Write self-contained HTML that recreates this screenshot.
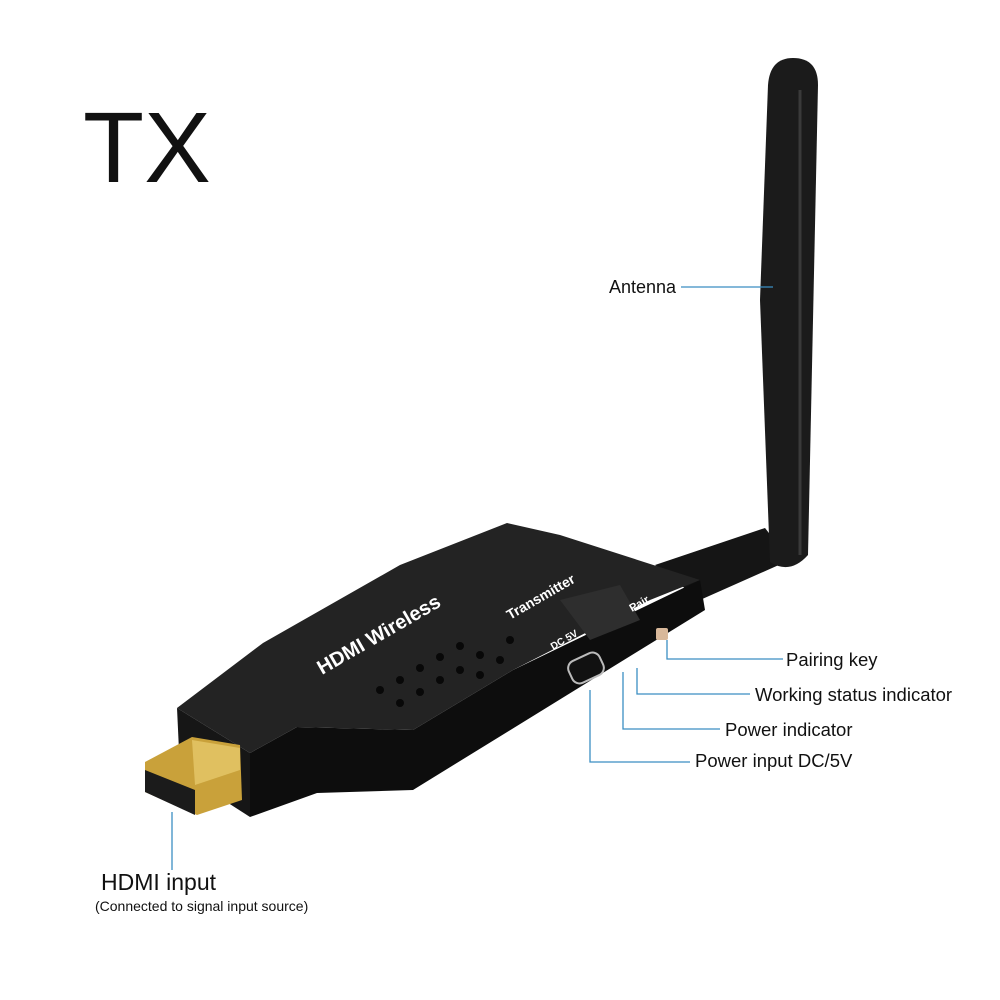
<!DOCTYPE html>
<html><head><style>
body{margin:0;background:#fff;}
svg{display:block;font-family:"Liberation Sans",sans-serif;}
</style></head><body>
<svg width="1000" height="1000" viewBox="0 0 1000 1000">
<rect width="1000" height="1000" fill="#fff"/>
<text x="83" y="182" font-size="100" fill="#111">TX</text>
<!-- antenna base hinge -->
<path d="M655,565 L765,528 L790,560 L700,600 Z" fill="#151515"/>
<!-- antenna -->
<path d="M768,85 Q770,58 793,58 Q818,58 818,85 L808,555 Q790,575 770,562 L760,300 Z" fill="#1b1b1b"/>
<path d="M800,90 L800,555" stroke="#3a3a3a" stroke-width="3"/>
<!-- side face -->
<path d="M250,753 L297,727 L413,730 L513,670 L700,580 L705,610 L413,790 L317,793 L250,817 Z" fill="#0d0d0d"/>
<!-- end face -->
<path d="M177,708 L250,753 L250,817 L180,772 Z" fill="#161616"/>
<!-- top face -->
<path d="M177,708 L263,643 L400,565 L507,523 L560,535 L700,580 L650,600 L513,670 L413,730 L297,727 L250,753 Z" fill="#232323"/>
<path d="M560,600 L620,585 L640,620 L590,640 Z" fill="#2e2e2e"/>
<g fill="#080808">
<circle cx="380" cy="690" r="4"/><circle cx="400" cy="680" r="4"/><circle cx="420" cy="668" r="4"/><circle cx="440" cy="657" r="4"/><circle cx="460" cy="646" r="4"/><circle cx="480" cy="655" r="4"/><circle cx="460" cy="670" r="4"/><circle cx="440" cy="680" r="4"/><circle cx="420" cy="692" r="4"/><circle cx="400" cy="703" r="4"/><circle cx="500" cy="660" r="4"/><circle cx="480" cy="675" r="4"/><circle cx="510" cy="640" r="4"/>
</g>
<text font-size="20" font-weight="bold" fill="#fff" transform="translate(322,675) rotate(-30)">HDMI Wireless</text>
<text font-size="14" font-weight="bold" fill="#fff" transform="translate(510,620) rotate(-30)">Transmitter</text>
<text font-size="10" font-weight="bold" fill="#fff" transform="translate(553,650) rotate(-30)">DC 5V</text>
<text font-size="11" font-weight="bold" fill="#fff" transform="translate(632,612) rotate(-30)">Pair</text>
<rect x="569" y="656" width="34" height="24" rx="8" fill="#111" stroke="#bbb" stroke-width="2" transform="rotate(-25 586 668)"/>
<rect x="656" y="628" width="12" height="12" rx="2" fill="#d8b89a"/>
<!-- HDMI connector -->
<path d="M145,762 L192,737 L240,745 L242,800 L197,815 L145,792 Z" fill="#c9a13a"/>
<path d="M145,770 L195,790 L195,815 L145,792 Z" fill="#1b1b1b"/>
<path d="M192,740 L240,748 L240,770 L195,785 Z" fill="#e0c060"/>
<g stroke="#3b8ec2" stroke-width="1.3" fill="none">
<path d="M681,287 H773"/>
<path d="M667,640 V659 H783"/>
<path d="M637,668 V694 H750"/>
<path d="M623,672 V729 H720"/>
<path d="M590,690 V762 H690"/>
<path d="M172,812 V870"/>
</g>
<g font-size="18.5" fill="#111">
<text x="786" y="666">Pairing key</text>
<text x="755" y="701">Working status indicator</text>
<text x="725" y="736">Power indicator</text>
<text x="695" y="767">Power input DC/5V</text>
</g>
<text x="609" y="293" font-size="18" fill="#111">Antenna</text>
<text x="101" y="890" font-size="23" fill="#111">HDMI input</text>
<text x="95" y="911" font-size="14" fill="#111">(Connected to signal input source)</text>
</svg>
</body></html>
